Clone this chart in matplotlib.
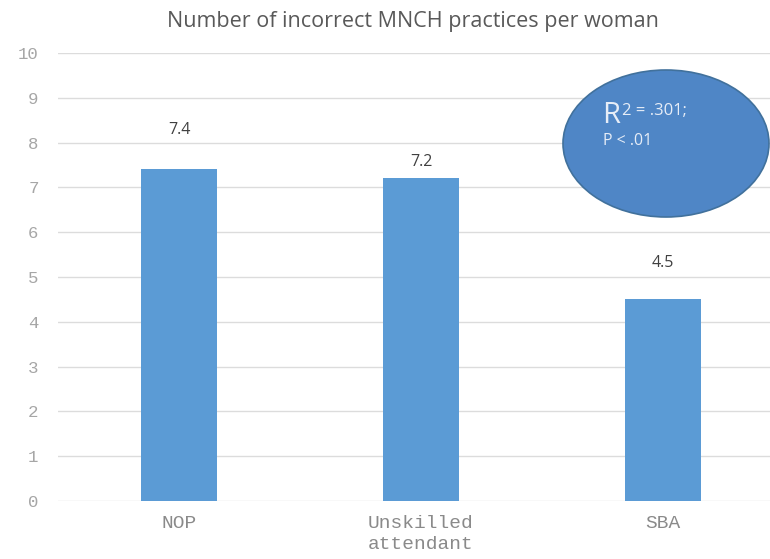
import matplotlib
matplotlib.use("Agg")
import matplotlib.pyplot as plt
from matplotlib.patches import Ellipse

categories = ["NOP", "Unskilled\nattendant", "SBA"]
values = [7.4, 7.2, 4.5]
value_labels = ["7.4", "7.2", "4.5"]
yticks = [0, 1, 2, 3, 4, 5, 6, 7, 8, 9, 10]
title = "Number of incorrect MNCH practices per woman"

# label offsets above bar tops (pixels) - layout only
label_offsets_px = [39, 16, 36]

W, H = 770, 559
fig = plt.figure(figsize=(W / 100, H / 100), dpi=100)
fig.patch.set_facecolor("white")

# axes: left at x=58, zero line at y=501, 10 line at y=53; category width 242 px
left_px, right_px = 58, 58 + 242 * 3
bottom_px, top_px = 501, 53
ax = fig.add_axes([left_px / W, 1 - bottom_px / H,
                   (right_px - left_px) / W, (bottom_px - top_px) / H])

x = list(range(len(categories)))
ax.bar(x, values, width=0.314, color="#5b9bd5", zorder=3)
ax.set_xlim(-0.5, 2.5)
ax.set_ylim(0, 10)
ax.set_yticks(yticks)
ax.set_yticklabels([str(t) for t in yticks], family="Liberation Mono",
                   fontsize=12.5, color="#a6a6a6")
ax.set_xticks(x)
ax.set_xticklabels(categories, family="Liberation Mono", fontsize=14,
                   color="#8a8a8a", linespacing=1.3)
ax.tick_params(axis="both", length=0)
ax.tick_params(axis="y", pad=14)
ax.tick_params(axis="x", pad=10)
ax.grid(axis="y", color="#dcdcdc", linewidth=1, zorder=0)
for s in ax.spines.values():
    s.set_visible(False)

for xi, v, lab, off in zip(x, values, value_labels, label_offsets_px):
    ax.annotate(lab, (xi, v), xytext=(0, off), textcoords="offset pixels",
                ha="center", va="center", fontsize=11.5, color="#404040",
                family="Open Sans")

fig.text(413 / W, 1 - 21 / H, title, ha="center", va="center",
         fontsize=15.5, color="#595959", family="Open Sans")

ell = Ellipse((666 / W, 1 - 143.5 / H), 206 / W, 147 / H,
              transform=fig.transFigure, facecolor="#4f86c6",
              edgecolor="#41719c", linewidth=1.2, zorder=5)
fig.add_artist(ell)
fig.text(602 / W, 1 - 123 / H, "R", ha="left", va="baseline",
         fontsize=21, color="#e6edf7", family="Open Sans", zorder=6)
fig.text(622 / W, 1 - 115 / H, "2 = .301;", ha="left", va="baseline",
         fontsize=12, color="#e6edf7", family="Open Sans", zorder=6)
fig.text(603 / W, 1 - 145 / H, "P < .01", ha="left", va="baseline",
         fontsize=11.5, color="#e6edf7", family="Open Sans", zorder=6)

fig.savefig("out.png", dpi=100)
